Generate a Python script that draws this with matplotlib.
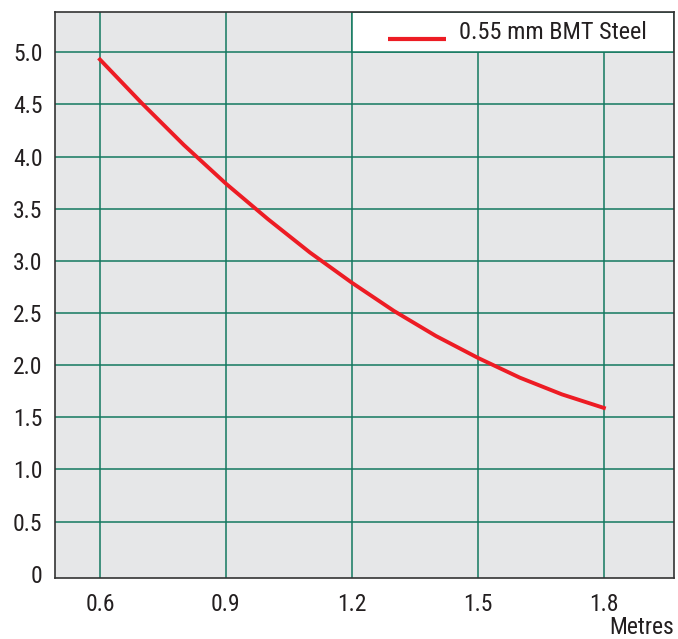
import matplotlib.pyplot as plt
from matplotlib.patches import Rectangle

# Données
span = [0.6, 0.7, 0.8, 0.9, 1.0, 1.1, 1.2, 1.3, 1.4, 1.5, 1.6, 1.7, 1.8]
load = [4.93, 4.51, 4.11, 3.74, 3.40, 3.08, 2.79, 2.52, 2.28, 2.07, 1.88, 1.72, 1.59]
series_name = "0.55 mm BMT Steel"

x_ticks = [0.6, 0.9, 1.2, 1.5, 1.8]
y_ticks = [0, 0.5, 1.0, 1.5, 2.0, 2.5, 3.0, 3.5, 4.0, 4.5, 5.0]
y_labels = ["0", "0.5", "1.0", "1.5", "2.0", "2.5", "3.0", "3.5", "4.0", "4.5", "5.0"]

plt.rcParams['font.family'] = ['Roboto Condensed', 'DejaVu Sans']

grid_col = "#13795f"
txt_col = "#231f20"
fsize = 17
fig = plt.figure(figsize=(6.78, 6.39), dpi=100)
ax = fig.add_axes([0.0811, 0.0955, 0.913, 0.8857])
ax.set_facecolor("#e6e7e8")

xmin, xmax = 0.493, 1.967
ymin, ymax = -0.04, 5.385
ax.set_xlim(xmin, xmax)
ax.set_ylim(ymin, ymax)

ax.set_xticks(x_ticks)
ax.set_xticklabels([f"{v:.1f}" for v in x_ticks])
ax.set_yticks(y_ticks)
ax.set_yticklabels(y_labels)
ax.tick_params(length=0, labelsize=fsize, colors=txt_col)
ax.tick_params(axis='x', pad=11)
ax.tick_params(axis='y', pad=9)

ax.set_axisbelow(True)
ax.grid(True, color=grid_col, linewidth=1.1)
# pas de ligne de grille sur 0 (seulement l'axe)
ax.yaxis.get_gridlines()[0].set_visible(False)

for s in ax.spines.values():
    s.set_color("#333333")
    s.set_linewidth(1.2)

# boîte de légende blanche en haut à droite
ax.add_patch(Rectangle((1.2, 5.0), xmax - 1.2, ymax - 5.0, facecolor="white",
                       edgecolor=grid_col, linewidth=1.1, zorder=1))
ax.plot([1.287, 1.425], [5.13, 5.13], color="#ed1c24", linewidth=3, solid_capstyle='butt', zorder=3)
ax.text(1.454, 5.185, series_name, fontsize=17.5, va='center', ha='left', color=txt_col, zorder=3)

ax.plot(span, load, color="#ed1c24", linewidth=2.8, zorder=2)

fig.text(674 / 678, 1 - 628 / 639, "Metres", fontsize=fsize, ha='right', va='center', color=txt_col)

fig.savefig("out.png", dpi=100)
